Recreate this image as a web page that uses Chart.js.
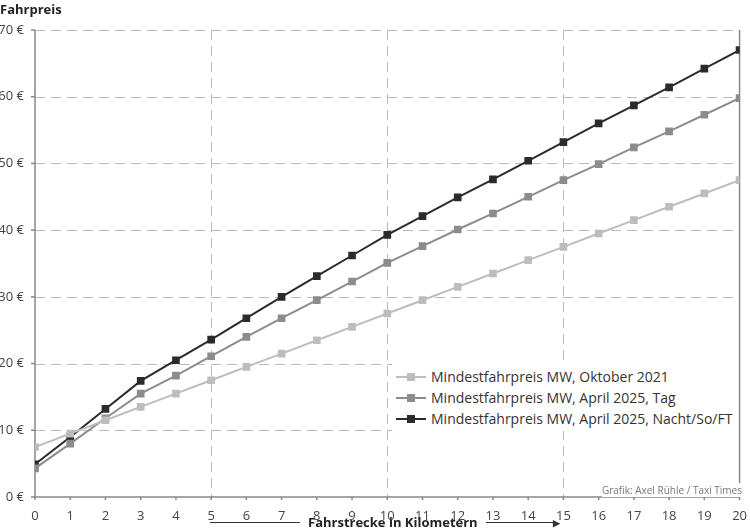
<!DOCTYPE html>
<html><head><meta charset="utf-8">
<script src="https://cdn.jsdelivr.net/npm/chart.js@4"></script>
<style>
body{margin:0;background:#fff;font-family:"Open Sans",sans-serif}
#wrap{position:relative;width:750px;height:531px}
#ytitle{position:absolute;left:0;top:0;font-weight:bold;font-size:13px;color:#222}
#xtitle{position:absolute;left:210px;top:513px;font-weight:bold;font-size:13px;color:#222;display:flex;align-items:center}
.ln{display:inline-block;height:1px;background:#333;position:relative}
#legend{position:absolute;left:392px;top:364px;background:#fff;padding:2px 4px;font-size:14px;color:#333;line-height:21px}
.li{display:flex;align-items:center}
.sw{width:30px;height:2px;position:relative;margin-right:5px}
.sw i{position:absolute;left:11px;top:-3px;width:8px;height:8px}
#credit{position:absolute;right:8px;top:483px;font-size:10px;color:#777;background:#fff}
</style></head><body>
<div id="wrap"><canvas id="c" width="750" height="531"></canvas>
<div id="ytitle">Fahrpreis</div>
<div id="xtitle"><span class="ln" style="width:90px"></span><span style="padding:0 8px">Fahrstrecke in Kilometern</span><span class="ln" style="width:70px"></span><span style="color:#333;font-size:9px;margin-left:-3px">&#9654;</span></div>
<div id="legend"></div>
<div id="credit">Grafik: Axel Rühle / Taxi Times</div>
</div>
<script>
const km=[0,1,2,3,4,5,6,7,8,9,10,11,12,13,14,15,16,17,18,19,20];
const okt2021=[7.5,9.5,11.5,13.5,15.5,17.5,19.5,21.5,23.5,25.5,27.5,29.5,31.5,33.5,35.5,37.5,39.5,41.5,43.5,45.5,47.5];
const apr2025Tag=[4.3,8.0,11.8,15.5,18.2,21.1,24.0,26.8,29.5,32.3,35.1,37.6,40.1,42.5,45.0,47.5,49.9,52.4,54.8,57.3,59.8];
const apr2025Nacht=[4.9,9.0,13.2,17.4,20.5,23.6,26.8,30.0,33.1,36.2,39.3,42.1,44.9,47.6,50.4,53.2,56.0,58.7,61.4,64.2,67.0];
const names=["Mindestfahrpreis MW, Oktober 2021","Mindestfahrpreis MW, April 2025, Tag","Mindestfahrpreis MW, April 2025, Nacht/So/FT"];
const colors=["#bdbdbd","#8c8c8c","#2b2b2b"];
const series=[okt2021,apr2025Tag,apr2025Nacht];
const ds=series.map((s,i)=>({label:names[i],data:s.map((v,j)=>({x:km[j],y:v})),borderColor:colors[i],backgroundColor:colors[i],borderWidth:2,pointStyle:'rect',pointRadius:4,pointHoverRadius:4}));
document.getElementById('legend').innerHTML=names.map((n,i)=>`<div class="li"><span class="sw" style="background:${colors[i]}"><i style="background:${colors[i]}"></i></span>${n}</div>`).join('');
new Chart(document.getElementById('c'),{type:'line',data:{datasets:ds},
options:{responsive:false,animation:false,layout:{padding:{top:30,right:5}},
plugins:{legend:{display:false},tooltip:{enabled:false}},
scales:{
x:{type:'linear',min:0,max:20,afterFit:s=>{s.height=34},
 ticks:{stepSize:1,color:'#444',font:{family:'Open Sans',size:13}},
 grid:{display:false},border:{display:false}},
y:{min:0,max:70,afterFit:s=>{s.width=35},
 ticks:{stepSize:10,color:'#444',font:{family:'Open Sans',size:13},callback:v=>v+' €'},
 grid:{display:false},border:{display:false}}
}},
plugins:[{id:'frame',beforeDatasetsDraw(ch){const a=ch.chartArea,x=ch.ctx,sx=ch.scales.x,sy=ch.scales.y;x.save();
x.strokeStyle='#bbb';x.lineWidth=1;x.setLineDash([10,6]);
for(const v of [5,10,15]){const p=Math.round(sx.getPixelForValue(v))+0.5;x.beginPath();x.moveTo(p,a.top);x.lineTo(p,a.bottom);x.stroke();}
for(const v of [10,20,30,40,50,60,70]){const p=Math.round(sy.getPixelForValue(v))+0.5;x.beginPath();x.moveTo(a.left,p);x.lineTo(a.right,p);x.stroke();}
x.setLineDash([]);x.strokeStyle='#888';x.lineWidth=1.5;
x.beginPath();x.moveTo(a.left,a.top);x.lineTo(a.left,a.bottom);x.lineTo(a.right,a.bottom);x.lineTo(a.right,a.top);x.stroke();
for(let v=0;v<=70;v+=10){const p=sy.getPixelForValue(v);x.beginPath();x.moveTo(a.left-4,p);x.lineTo(a.left,p);x.stroke();}
for(let v=0;v<=20;v++){const p=sx.getPixelForValue(v);x.beginPath();x.moveTo(p,a.bottom);x.lineTo(p,a.bottom+3);x.stroke();}
x.restore();}}]
});
</script></body></html>
